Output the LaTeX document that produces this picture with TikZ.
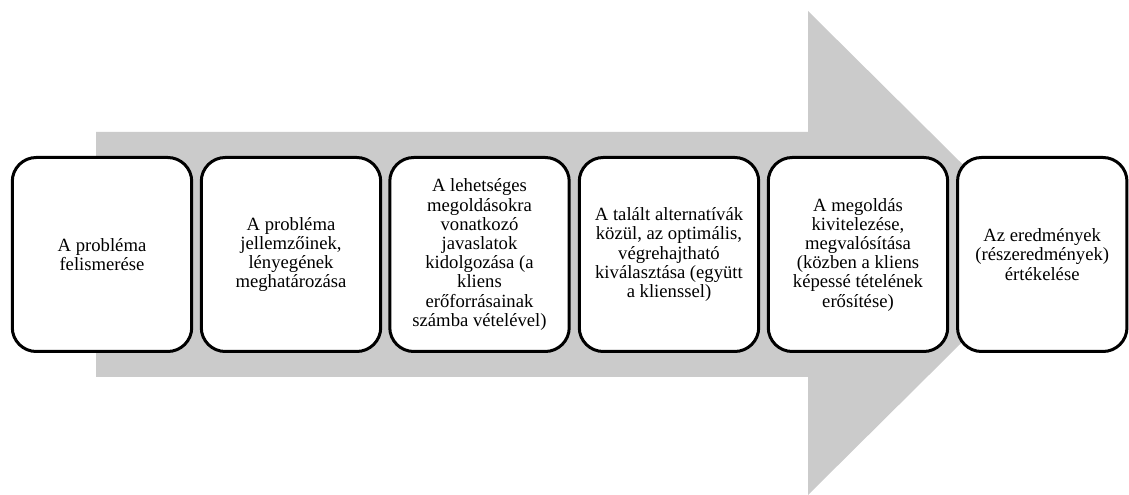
\documentclass[tikz,border=0pt]{standalone}
\usepackage{fontspec}
\setmainfont{Liberation Serif}
\definecolor{arrowgray}{RGB}{203,203,203}
\begin{document}
\begin{tikzpicture}[x=0.75pt,y=-0.75pt,
  stepbox/.style={draw=black, line width=2.25pt, fill=white, rounded corners=18pt,
    minimum width=134.6pt, minimum height=145.5pt, align=center, inner sep=0pt,
    font=\fontsize{14pt}{14.4pt}\selectfont}]
\useasboundingbox (0,0) rectangle (1129,495);
\fill[arrowgray] (96,132) -- (808,132) -- (808,11) -- (1052,253) -- (808,495) -- (808,377) -- (96,377) -- cycle;
\node[stepbox] (b1) at (102,254.5) {A probléma\\felismerése};
\node[stepbox] (b2) at (291,254.5) {A probléma\\jellemzőinek,\\lényegének\\meghatározása};
\node[stepbox] (b3) at (479.5,254.5) {A lehetséges\\megoldásokra\\vonatkozó\\javaslatok\\kidolgozása (a\\kliens\\erőforrásainak\\számba vételével)};
\node[stepbox] (b4) at (669,254.5) {A talált alternatívák\\közül, az optimális,\\végrehajtható\\kiválasztása (együtt\\a klienssel)};
\node[stepbox] (b5) at (858,254.5) {A megoldás\\kivitelezése,\\megvalósítása\\(közben a kliens\\képessé tételének\\erősítése)};
\node[stepbox, minimum width=127.1pt] (b6) at (1042.25,254.5) {Az eredmények\\(részeredmények)\\értékelése};
\end{tikzpicture}
\end{document}
